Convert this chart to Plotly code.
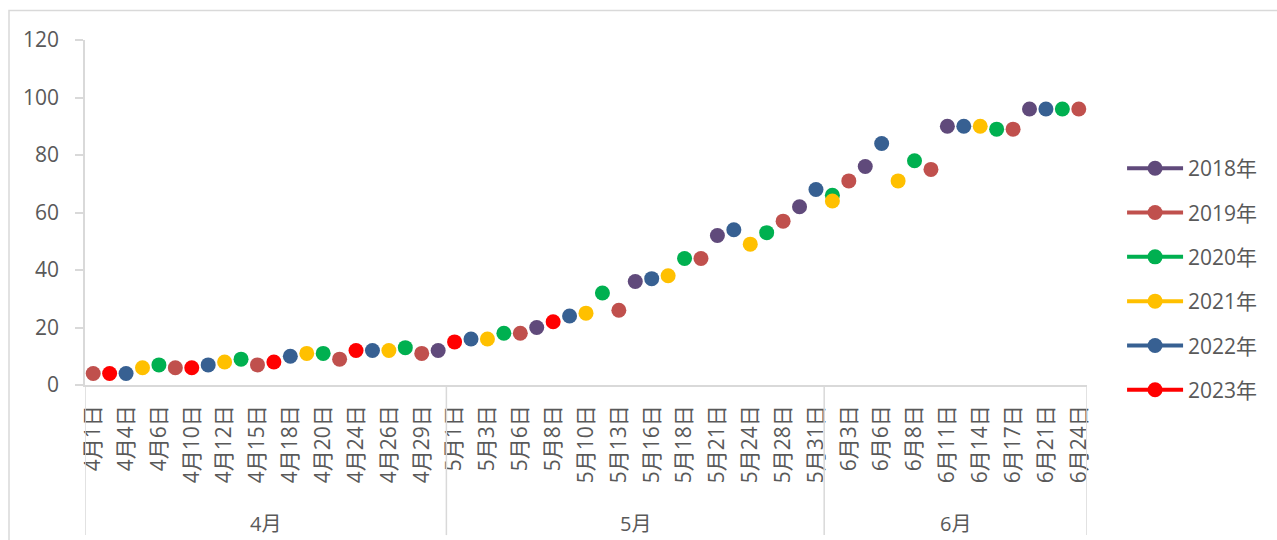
import plotly.graph_objects as go

# Weekly report dates (month-day), merged across all years, in calendar order
months = ["4月"] * 22 + ["5月"] * 23 + ["6月"] * 16
dates = [
    "4月1日", "4月3日", "4月4日", "4月5日", "4月6日", "4月8日", "4月10日", "4月11日",
    "4月12日", "4月13日", "4月15日", "4月17日", "4月18日", "4月19日", "4月20日", "4月22日",
    "4月24日", "4月25日", "4月26日", "4月27日", "4月29日", "4月30日",
    "5月1日", "5月2日", "5月3日", "5月4日", "5月6日", "5月7日", "5月8日", "5月9日",
    "5月10日", "5月11日", "5月13日", "5月14日", "5月16日", "5月17日", "5月18日", "5月20日",
    "5月21日", "5月23日", "5月24日", "5月26日", "5月28日", "5月29日", "5月31日",
    "6月1日", "6月3日", "6月4日", "6月6日", "6月7日", "6月8日", "6月10日", "6月11日",
    "6月13日", "6月14日", "6月15日", "6月17日", "6月18日", "6月21日", "6月22日", "6月24日",
]

# Progress (%) per year on its report dates
d2018 = ["4月30日", "5月7日", "5月14日", "5月21日", "5月29日", "6月4日", "6月11日", "6月18日"]
v2018 = [12, 20, 36, 52, 62, 76, 90, 96]

d2019 = ["4月1日", "4月8日", "4月15日", "4月22日", "4月29日", "5月6日", "5月13日", "5月20日",
         "5月28日", "6月3日", "6月10日", "6月17日", "6月24日"]
v2019 = [4, 6, 7, 9, 11, 18, 26, 44, 57, 71, 75, 89, 96]

d2020 = ["4月6日", "4月13日", "4月20日", "4月27日", "5月4日", "5月11日", "5月18日", "5月26日",
         "6月1日", "6月8日", "6月15日", "6月22日"]
v2020 = [7, 9, 11, 13, 18, 32, 44, 53, 66, 78, 89, 96]

d2021 = ["4月5日", "4月12日", "4月19日", "4月26日", "5月3日", "5月10日", "5月17日", "5月24日",
         "6月1日", "6月7日", "6月14日"]
v2021 = [6, 8, 11, 12, 16, 25, 38, 49, 64, 71, 90]

d2022 = ["4月4日", "4月11日", "4月18日", "4月25日", "5月2日", "5月9日", "5月16日", "5月23日",
         "5月31日", "6月6日", "6月13日", "6月21日"]
v2022 = [4, 7, 10, 12, 16, 24, 37, 54, 68, 84, 90, 96]

d2023 = ["4月3日", "4月10日", "4月17日", "4月24日", "5月1日", "5月8日"]
v2023 = [4, 6, 8, 12, 15, 22]

series_names = ["2018年", "2019年", "2020年", "2021年", "2022年", "2023年"]
series_dates = [d2018, d2019, d2020, d2021, d2022, d2023]
series_values = [v2018, v2019, v2020, v2021, v2022, v2023]
series_colors = ["#604A7B", "#C0504D", "#00B050", "#FFC000", "#376092", "#FF0000"]

month_names = ["4月", "5月", "6月"]

fig = go.Figure()
for name, ds, vs, col in zip(series_names, series_dates, series_values, series_colors):
    lookup = dict(zip(ds, vs))
    ys = [lookup.get(d) for d in dates]
    fig.add_trace(go.Scatter(
        x=dates, y=ys, name=name, mode="lines+markers",
        connectgaps=False, legendgroup=name,
        line=dict(color=col, width=4),
        marker=dict(color=col, size=15),
    ))

# Group dividers and month labels under the date axis
bounds = [0]
for i in range(1, len(months)):
    if months[i] != months[i - 1]:
        bounds.append(i)
bounds.append(len(months))

shapes = []
annotations = []
for b in bounds:
    shapes.append(dict(type="line", xref="x", yref="paper", x0=b - 0.5, x1=b - 0.5,
                       y0=0, y1=-0.435, line=dict(color="#D9D9D9", width=1.5)))
for k, m in enumerate(month_names):
    mid = (bounds[k] + bounds[k + 1] - 1) / 2
    annotations.append(dict(x=mid, y=-0.4, xref="x", yref="paper", text=m,
                            showarrow=False, yanchor="middle",
                            font=dict(size=20, color="#595959")))

# Outer chart-area border
shapes.append(dict(type="rect", xref="paper", yref="paper",
                   x0=(9 - 85) / 1002, x1=1.3, y0=-0.6, y1=(385 - 10.5) / 345,
                   line=dict(color="#D9D9D9", width=1.5), layer="below"))

fig.update_layout(
    width=1277, height=540,
    margin=dict(l=85, r=190, t=40, b=155),
    paper_bgcolor="white", plot_bgcolor="white",
    font=dict(family="Open Sans, Noto Sans CJK SC, sans-serif", color="#595959"),
    shapes=shapes, annotations=annotations,
    legend=dict(x=1.035, y=0.307, xanchor="left", yanchor="middle",
                font=dict(size=21, color="#595959"), tracegroupgap=14,
                itemwidth=56),
    showlegend=True,
)
fig.update_xaxes(
    type="category", categoryorder="array", categoryarray=dates,
    range=[-0.5, len(dates) - 0.5],
    tickmode="array", tickvals=dates[::2], ticktext=dates[::2],
    tickangle=-90, tickfont=dict(size=21, color="#595959"),
    ticks="", showgrid=False, zeroline=False,
    showline=True, linecolor="#D9D9D9", linewidth=1.5,
    ticklabelstandoff=10,
)
fig.update_yaxes(
    range=[0, 120], dtick=20, tick0=0,
    ticks="outside", ticklen=8, tickcolor="#D9D9D9", tickwidth=1.5,
    tickfont=dict(size=21, color="#595959"),
    showline=True, linecolor="#D9D9D9", linewidth=1.5,
    showgrid=False, zeroline=False, ticklabelstandoff=12,
)

fig.write_html("out.html")
